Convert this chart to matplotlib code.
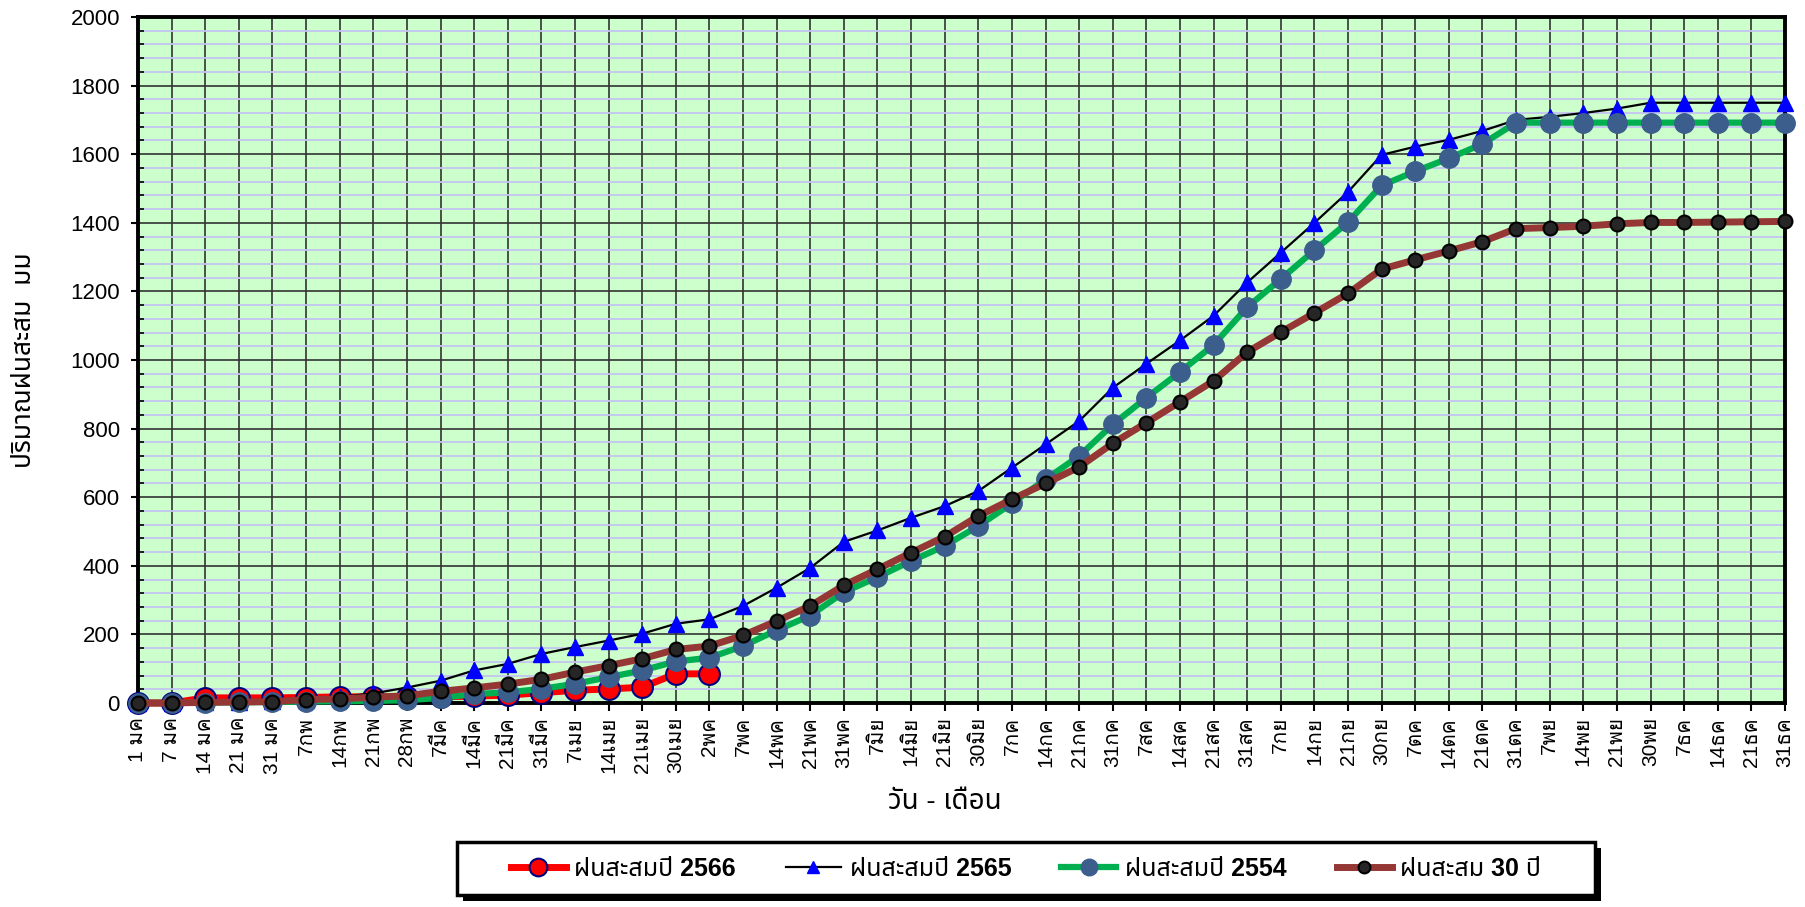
import numpy as np
import matplotlib
matplotlib.use("Agg")
import matplotlib.pyplot as plt
from matplotlib.patches import Rectangle
from matplotlib.ticker import MultipleLocator

# วัน - เดือน
days = ['1 มค', '7 มค', '14 มค', '21 มค', '31 มค', '7กพ', '14กพ', '21กพ', '28กพ',
        '7มีค', '14มีค', '21มีค', '31มีค', '7เมย', '14เมย', '21เมย', '30เมย',
        '2พค', '7พค', '14พค', '21พค', '31พค', '7มิย', '14มิย', '21มิย', '30มิย',
        '7กค', '14กค', '21กค', '31กค', '7สค', '14สค', '21สค', '31สค',
        '7กย', '14กย', '21กย', '30กย', '7ตค', '14ตค', '21ตค', '31ตค',
        '7พย', '14พย', '21พย', '30พย', '7ธค', '14ธค', '21ธค', '31ธค']

rain_2566 = [0, 0, 15, 15, 15, 16, 18, 18, 18, 18, 20, 23, 30, 37, 41, 46, 85, 85]

rain_2565 = [0, 1, 2, 3, 5, 10, 18, 28, 45, 65,
             95, 114, 143, 163, 182, 202, 231, 244, 283, 336,
             394, 470, 503, 540, 574, 618, 686, 754, 822, 919,
             989, 1057, 1129, 1226, 1313, 1400, 1490, 1598, 1622, 1642,
             1668, 1700, 1709, 1720, 1733, 1750, 1750, 1750, 1750, 1750]

rain_2554 = [0, 0, 1, 2, 3, 4, 5, 6, 8, 15,
             26, 31, 41, 56, 75, 95, 121, 132, 166, 212,
             255, 323, 367, 414, 458, 516, 582, 652, 720, 812,
             890, 965, 1044, 1154, 1236, 1320, 1402, 1509, 1550, 1588,
             1630, 1692, 1692, 1692, 1692, 1692, 1692, 1692, 1692, 1692]

rain_30y = [0, 0, 2, 3, 4, 10, 12, 17, 21, 34,
            44, 55, 69, 90, 109, 129, 156, 166, 197, 239,
            283, 343, 390, 438, 485, 545, 594, 640, 688, 757,
            817, 878, 939, 1023, 1081, 1137, 1194, 1265, 1292, 1318,
            1345, 1383, 1386, 1390, 1397, 1401, 1401, 1402, 1403, 1404]

labels = ['ฝนสะสมปี 2566', 'ฝนสะสมปี 2565', 'ฝนสะสมปี 2554', 'ฝนสะสม 30 ปี']

tick_font = ['Liberation Sans', 'Loma']
thai_font = ['Liberation Sans', 'Noto Sans Thai']

W, H = 1806, 907
fig = plt.figure(figsize=(W / 100, H / 100), dpi=100)
ax = fig.add_axes([138 / W, 1 - 703 / H, (1785 - 138) / W, (703 - 17) / H])
ax.set_facecolor('#ccffcc')

x = np.arange(len(days))
l1, = ax.plot(x[:len(rain_2566)], rain_2566, color='#ff0000', lw=5, marker='o', ms=15,
              mfc='#ff0000', mec='#000080', mew=1.5, zorder=3, clip_on=False)
l2, = ax.plot(x, rain_2565, color='black', lw=1.6, marker='^', ms=11,
              mfc='#0000ff', mec='#0000ff', zorder=4, clip_on=False)
l3, = ax.plot(x, rain_2554, color='#00b050', lw=4.5, marker='o', ms=14,
              mfc='#3b5e8c', mec='#3b5e8c', zorder=5, clip_on=False)
l4, = ax.plot(x, rain_30y, color='#953735', lw=5, marker='o', ms=10,
              mfc='#262626', mec='black', mew=1.5, zorder=6, clip_on=False)

ax.set_xlim(0, len(days) - 1)
ax.set_ylim(0, 2000)
ax.set_xticks(x)
ax.set_xticklabels(days, rotation=90, fontsize=15, family=tick_font)
ax.yaxis.set_major_locator(MultipleLocator(200))
ax.yaxis.set_minor_locator(MultipleLocator(40))
for t in ax.get_yticklabels():
    t.set_family(tick_font)
    t.set_fontsize(16)

ax.tick_params(axis='x', direction='out', length=6, width=1.5, pad=4)
ax.tick_params(axis='y', which='major', direction='out', length=5, width=1.5, pad=8)
ax.tick_params(axis='y', which='minor', direction='in', length=4, width=1.2)

ax.grid(True, which='major', axis='both', color='#333333', lw=1.2, zorder=1)
ax.grid(True, which='minor', axis='y', color='#c4c4f2', lw=1.3, zorder=0.5)
ax.set_axisbelow(True)
for s in ax.spines.values():
    s.set_linewidth(2.8)
    s.set_zorder(2.5)

ax.set_xlabel('วัน - เดือน', fontsize=20, family=thai_font)
ax.xaxis.set_label_coords(0.49, -0.125)
ax.set_ylabel('ปริมาณฝนสะสม  มม', fontsize=19, family=thai_font)
ax.yaxis.set_label_coords(-0.062, 0.5)

# legend box with shadow
bx0, by0, bw, bh = 457, 842, 1138, 53
fig.patches.append(Rectangle(((bx0 + 6) / W, 1 - (by0 + bh + 6) / H), bw / W, bh / H,
                             transform=fig.transFigure, facecolor='black', edgecolor='none'))
fig.patches.append(Rectangle((bx0 / W, 1 - (by0 + bh) / H), bw / W, bh / H,
                             transform=fig.transFigure, facecolor='white', edgecolor='black',
                             lw=2.5))
leg = fig.legend([l1, l2, l3, l4], labels, loc='center', ncol=4, frameon=False,
                 bbox_to_anchor=((bx0 + bw / 2) / W, 1 - (by0 + bh / 2) / H),
                 handlelength=2.2, handletextpad=0.35, columnspacing=2.0,
                 prop={'family': thai_font, 'size': 18, 'weight': 'bold'})
for h in leg.legend_handles:
    h.set_markersize(h.get_markersize() * 0.85)

fig.savefig('out.png', dpi=100)
